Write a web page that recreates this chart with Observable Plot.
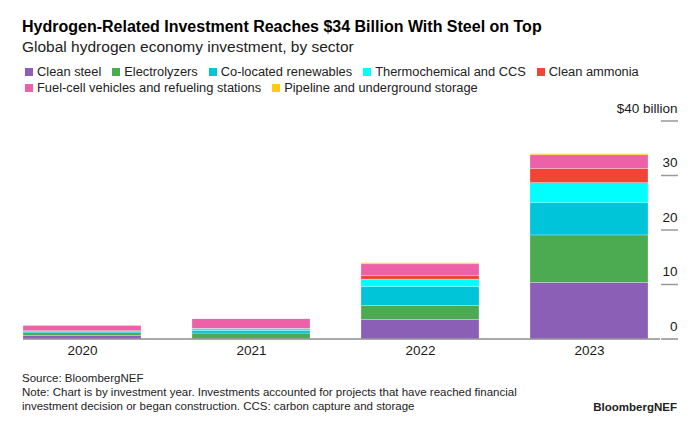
<!DOCTYPE html>
<html>
<head>
<meta charset="utf-8">
<script src="https://cdn.jsdelivr.net/npm/d3@7"></script>
<script src="https://cdn.jsdelivr.net/npm/@observablehq/plot@0.6"></script>
<style>
  html, body { margin: 0; padding: 0; background: #fff; }
  #wrap { position: relative; width: 693px; height: 438px; font-family: "Liberation Sans", Arial, sans-serif; color: #1a1a1a; overflow: hidden; }
  .abs { position: absolute; white-space: nowrap; }
  #title { left: 22px; top: 17px; font-size: 16px; line-height: 20px; font-weight: bold; color: #000; }
  #subtitle { left: 22px; top: 36.5px; font-size: 15.5px; line-height: 19px; color: #222; }
  .legrow { position: absolute; left: 25px; display: flex; align-items: center; font-size: 12.85px; line-height: 16px; color: #222; }
  .item { display: flex; align-items: center; margin-right: 11px; }
  .sw { width: 8px; height: 8px; margin-right: 4px; }
  #chart { position: absolute; left: 0; top: 100px; }
  .foot { position: absolute; left: 22px; font-size: 11.5px; line-height: 13.5px; color: #222; white-space: nowrap; }
  #brand { position: absolute; right: 16px; top: 399.5px; font-size: 11.5px; line-height: 14px; font-weight: bold; color: #222; }
</style>
</head>
<body>
<div id="wrap">
  <div id="title" class="abs">Hydrogen-Related Investment Reaches $34 Billion With Steel on Top</div>
  <div id="subtitle" class="abs">Global hydrogen economy investment, by sector</div>
  <div id="leg1" class="legrow" style="top:64px"></div>
  <div id="leg2" class="legrow" style="top:80px"></div>
  <div id="chart"></div>
  <div class="foot" style="top:372px">Source: BloombergNEF</div>
  <div class="foot" style="top:386px">Note: Chart is by investment year. Investments accounted for projects that have reached financial</div>
  <div class="foot" style="top:399.5px">investment decision or began construction. CCS: carbon capture and storage</div>
  <div id="brand">BloombergNEF</div>
</div>
<script>
// Data (US$ billion)
const years = ["2020", "2021", "2022", "2023"];
const sectors = [
  "Clean steel",
  "Electrolyzers",
  "Co-located renewables",
  "Thermochemical and CCS",
  "Clean ammonia",
  "Fuel-cell vehicles and refueling stations",
  "Pipeline and underground storage"
];
const colors = ["#8c5fb6", "#4cab50", "#00c4d8", "#00ffff", "#f04434", "#ec61a8", "#ffc914"];
const cleanSteel   = [0.6, 0.05, 3.5, 10.3];
const electrolyzers = [0.45, 0.95, 2.6, 8.7];
const coLocated    = [0.3, 0.5, 3.4, 5.9];
const thermoCCS    = [0.05, 0.35, 1.4, 3.7];
const cleanAmmonia = [0.02, 0.02, 0.7, 2.6];
const fuelCell     = [1.0, 1.75, 2.1, 2.5];
const pipeline     = [0.02, 0.03, 0.2, 0.2];
const yTicks = [0, 10, 20, 30, 40];

const series = [cleanSteel, electrolyzers, coLocated, thermoCCS, cleanAmmonia, fuelCell, pipeline];
const rows = [];
years.forEach((yr, i) => {
  sectors.forEach((s, j) => rows.push({year: yr, sector: s, value: series[j][i]}));
});

// Legend
function addItems(el, idxs) {
  idxs.forEach(j => {
    const it = document.createElement("div");
    it.className = "item";
    const sw = document.createElement("div");
    sw.className = "sw";
    sw.style.background = colors[j];
    const t = document.createElement("span");
    t.textContent = sectors[j];
    it.appendChild(sw); it.appendChild(t);
    el.appendChild(it);
  });
}
addItems(document.getElementById("leg1"), [0,1,2,3,4]);
addItems(document.getElementById("leg2"), [5,6]);

const chart = Plot.plot({
  width: 693,
  height: 262,
  marginTop: 20.5,
  marginBottom: 23.5,
  marginLeft: 23,
  marginRight: 33,
  style: {fontFamily: "'Liberation Sans', Arial, sans-serif", fontSize: "13.5px", color: "#1a1a1a", background: "white"},
  x: {domain: years, paddingInner: 0.3, paddingOuter: 0.0346, align: 0, label: null},
  y: {domain: [0, 40], label: null},
  color: {domain: sectors, range: colors},
  marks: [
    Plot.barY(rows, {x: "year", y: "value", fill: "sector", order: sectors, stroke: "white", strokeWidth: 0.5, strokeOpacity: 0.5}),
    Plot.ruleY([0], {stroke: "#555", strokeWidth: 1}),
    Plot.axisX({tickSize: 0, tickPadding: 6.5, fontSize: 13.5, label: null}),
    // tick marks only
    Plot.axisY({anchor: "right", ticks: yTicks.filter(d => d > 0), tickSize: 17, tickPadding: 0,
      stroke: "#999", strokeWidth: 1.5, label: null, tickFormat: () => ""}),
    Plot.axisY({anchor: "right", ticks: [0], tickSize: 17, tickPadding: 0,
      stroke: "#555", strokeWidth: 1, label: null, tickFormat: () => ""}),
    // labels only
    Plot.axisY({anchor: "right", ticks: yTicks, tickSize: 0, tickPadding: 17,
      textAnchor: "end", dy: -12.5, fontSize: 13.5, label: null,
      tickFormat: d => d === 40 ? "$40 billion" : String(d)})
  ]
});
document.getElementById("chart").appendChild(chart);
</script>
</body>
</html>
